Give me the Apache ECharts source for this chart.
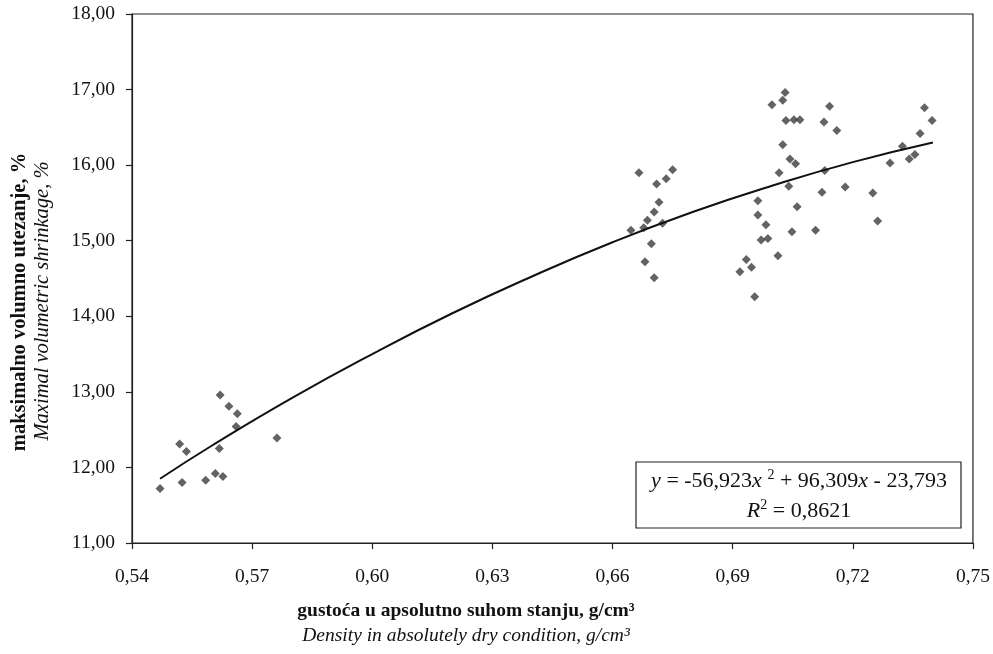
<!DOCTYPE html>
<html>
<head>
<meta charset="utf-8">
<script src="https://cdn.jsdelivr.net/npm/echarts@6/dist/echarts.min.js"></script>
<style>
html,body{margin:0;padding:0;background:#fff;}
#c{width:993px;height:654px;}
</style>
</head>
<body>
<div id="c"></div>
<script>
// Measured points: density (g/cm3) and maximal volumetric shrinkage (%)
var densityX = [
  0.5470,0.5525,0.5584,0.5608,0.5627,0.5519,0.5536,0.5618,0.5660,0.5663,0.5642,0.5620,0.5762,
  0.6666,0.6710,0.6734,0.6750,0.6716,0.6704,0.6687,0.6725,0.6646,0.6678,0.6697,0.6681,0.6704,
  0.6998,0.7031,0.7025,0.7033,0.7053,0.7068,0.7128,0.7142,0.7025,0.7043,0.7057,0.7016,0.7040,
  0.7130,0.7123,0.6963,0.7061,0.6963,0.6983,0.7048,0.7107,0.6971,0.6988,0.7013,0.6934,0.6947,
  0.6918,0.6955,0.7160,0.7379,0.7398,0.7368,0.7324,0.7341,0.7355,0.7293,0.7181,0.7250,0.7262
];
var shrinkY = [
  11.72,11.80,11.83,11.92,11.88,12.31,12.21,12.25,12.54,12.71,12.81,12.96,12.39,
  15.90,15.75,15.82,15.94,15.51,15.38,15.27,15.23,15.14,15.17,14.96,14.72,14.51,
  16.80,16.96,16.86,16.59,16.60,16.60,16.57,16.78,16.27,16.08,16.02,15.90,15.72,
  15.93,15.64,15.53,15.45,15.34,15.21,15.12,15.14,15.01,15.03,14.80,14.75,14.65,
  14.59,14.26,16.46,16.76,16.59,16.42,16.25,16.08,16.14,16.03,15.71,15.63,15.26
];
// Trend line
var trendX = [0.547,0.56,0.58,0.60,0.62,0.64,0.66,0.68,0.70,0.72,0.74];
var trendY = [11.85,12.29,12.92,13.50,14.04,14.53,14.98,15.38,15.73,16.04,16.30];
// Axis ticks
var xTicks = {min:0.54, max:0.75, interval:0.03};
var yTicks = {min:11, max:18, interval:1};

var pts = densityX.map(function(x,i){return [x, shrinkY[i]];});
var trend = trendX.map(function(x,i){return [x, trendY[i]];});

var serif = '"Liberation Serif","Times New Roman",serif';
var chart = echarts.init(document.getElementById('c'), null, {renderer:'canvas'});
function fmt(v){return v.toFixed(2).replace('.', ',');}

chart.setOption({
  animation:false,
  grid:{left:132, right:20, top:14, bottom:111, show:true, borderColor:'#222', borderWidth:1.2, backgroundColor:'transparent'},
  xAxis:{
    type:'value', min:xTicks.min, max:xTicks.max, interval:xTicks.interval,
    axisLine:{show:true, onZero:false, lineStyle:{color:'#222', width:1.2}},
    axisTick:{show:true, length:6, lineStyle:{color:'#222', width:1.2}},
    splitLine:{show:false},
    axisLabel:{fontFamily:serif, fontSize:19.5, color:'#111', margin:24, formatter:function(v){return fmt(v);}}
  },
  yAxis:{
    type:'value', min:yTicks.min, max:yTicks.max, interval:yTicks.interval,
    axisLine:{show:true, onZero:false, lineStyle:{color:'#222', width:1.2}},
    axisTick:{show:true, length:6, lineStyle:{color:'#222', width:1.2}},
    splitLine:{show:false},
    axisLabel:{fontFamily:serif, fontSize:19.5, color:'#111', margin:17, formatter:function(v){return fmt(v);}}
  },
  series:[
    {type:'scatter', data:pts, symbol:'diamond', symbolSize:9, itemStyle:{color:'#3c3c3c'}, z:3},
    {type:'line', data:trend, smooth:true, showSymbol:false, symbol:'none', lineStyle:{color:'#111', width:2}, z:4}
  ],
  graphic:[
    {type:'rect', shape:{x:636, y:462, width:325, height:66}, style:{fill:'#fff', stroke:'#222', lineWidth:1.2}, z:10},
    {type:'text', x:799, y:481, z:11, style:{
      text:'{i|y} = -56,923{i|x} {sup|2} + 96,309{i|x} - 23,793',
      textAlign:'center', textVerticalAlign:'middle', font:'22px '+serif, fill:'#111',
      rich:{
        i:{fontStyle:'italic', fontSize:22, fontFamily:serif, color:'#111', lineHeight:26},
        sup:{fontSize:14, fontFamily:serif, color:'#111', verticalAlign:'top', lineHeight:14}
      }
    }},
    {type:'text', x:799, y:511, z:11, style:{
      text:'{i|R}{sup|2} = 0,8621',
      textAlign:'center', textVerticalAlign:'middle', font:'22px '+serif, fill:'#111',
      rich:{
        i:{fontStyle:'italic', fontSize:22, fontFamily:serif, color:'#111', lineHeight:26},
        sup:{fontSize:14, fontFamily:serif, color:'#111', verticalAlign:'top', lineHeight:14}
      }
    }},
    {type:'text', x:466, y:611, style:{text:'gustoća u apsolutno suhom stanju, g/cm³', textAlign:'center', textVerticalAlign:'middle', font:'bold 19.5px '+serif, fill:'#111'}},
    {type:'text', x:466, y:636, style:{text:'Density in absolutely dry condition, g/cm³', textAlign:'center', textVerticalAlign:'middle', font:'italic 19.5px '+serif, fill:'#111'}},
    {type:'text', x:20, y:302, rotation:Math.PI/2, style:{text:'maksimalno volumno utezanje, %', textAlign:'center', textVerticalAlign:'middle', font:'bold 20.5px '+serif, fill:'#111'}},
    {type:'text', x:43, y:301, rotation:Math.PI/2, style:{text:'Maximal volumetric shrinkage, %', textAlign:'center', textVerticalAlign:'middle', font:'italic 20.5px '+serif, fill:'#111'}}
  ]
});
</script>
</body>
</html>
